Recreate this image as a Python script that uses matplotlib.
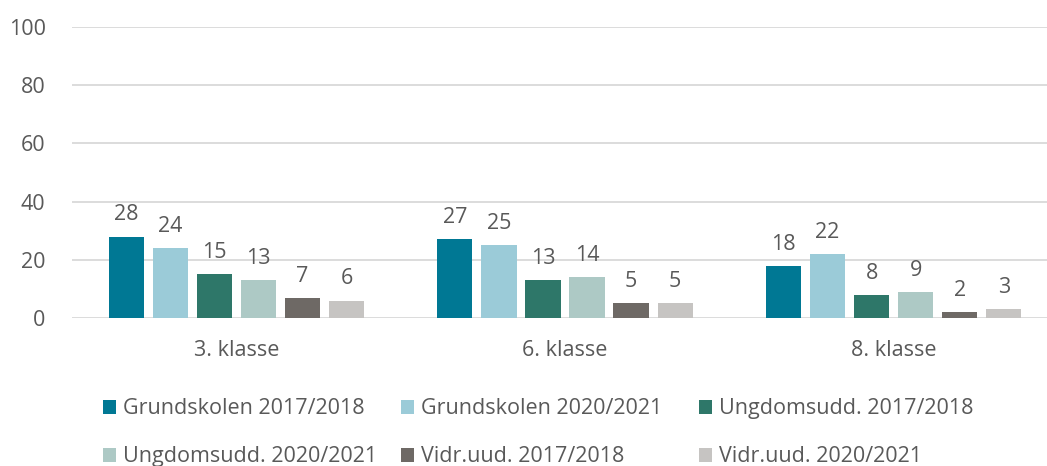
import matplotlib.pyplot as plt
import numpy as np

plt.rcParams['font.family'] = ['Open Sans', 'DejaVu Sans']

categories = ["3. klasse", "6. klasse", "8. klasse"]
series = ["Grundskolen 2017/2018", "Grundskolen 2020/2021", "Ungdomsudd. 2017/2018",
          "Ungdomsudd. 2020/2021", "Vidr.uud. 2017/2018", "Vidr.uud. 2020/2021"]
grund_1718 = [28, 27, 18]
grund_2021 = [24, 25, 22]
ungdom_1718 = [15, 13, 8]
ungdom_2021 = [13, 14, 9]
vidr_1718 = [7, 5, 2]
vidr_2021 = [6, 5, 3]
values = [grund_1718, grund_2021, ungdom_1718, ungdom_2021, vidr_1718, vidr_2021]
colors = ["#007894", "#9BCBD8", "#2E7769", "#ADC9C5", "#6E6965", "#C6C4C2"]

txt = "#595959"
fs = 15.5
W, H = 1047, 466
fig = plt.figure(figsize=(W / 100, H / 100), dpi=100)
# plot area runs a little past the right edge (cropped like the original)
ax = fig.add_axes([72 / W, (H - 318) / H, (1058 - 72) / W, 291 / H])

x = np.arange(len(categories))
pitch = 0.134
width = 0.107
handles = []
for i, (vals, col) in enumerate(zip(values, colors)):
    bars = ax.bar(x + (i - 2.5) * pitch, vals, width, color=col, label=series[i], zorder=3)
    ax.bar_label(bars, padding=8, fontsize=fs, color=txt)
    handles.append(bars)

ax.set_xlim(-0.5, 2.5)
ax.set_ylim(0, 100)
ax.set_yticks(np.arange(0, 101, 20))
ax.set_xticks(x)
ax.set_xticklabels(categories)
ax.grid(axis='y', color='#D9D9D9', linewidth=1.3, zorder=0)
for s in ax.spines.values():
    s.set_visible(False)
ax.tick_params(axis='both', length=0, labelsize=fs, colors=txt)
ax.tick_params(axis='y', pad=19)
ax.tick_params(axis='x', pad=16)

# legend: three evenly spaced columns, row-wise order like Excel
col_x = [97, 395, 693]
for c in range(3):
    idx = [c, c + 3]
    leg = fig.legend([handles[i] for i in idx], [series[i] for i in idx], ncol=1,
                     loc='upper left', bbox_to_anchor=(col_x[c] / W, 1 - 392 / H), frameon=False,
                     fontsize=fs, handlelength=0.6, handleheight=0.6, handletextpad=0.3,
                     labelspacing=1.25, borderaxespad=0, borderpad=0.3)
    for t in leg.get_texts():
        t.set_color(txt)

fig.savefig("out.png", dpi=100)
